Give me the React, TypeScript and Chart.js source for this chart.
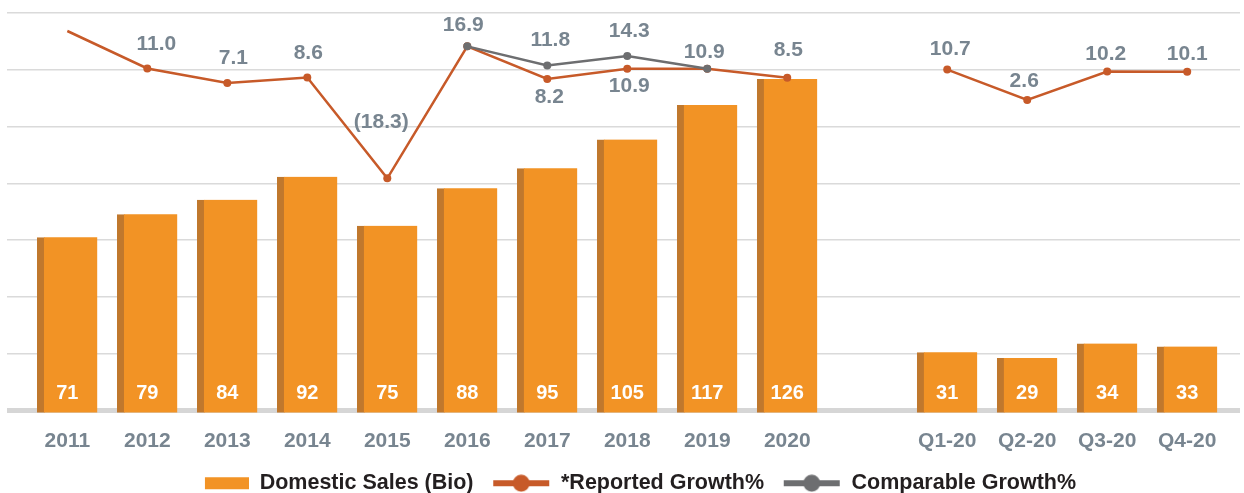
import React, { useEffect, useRef } from 'react';
import { Chart, registerables } from 'chart.js';

Chart.register(...registerables);

// ---------- data ----------
const categories = ['2011', '2012', '2013', '2014', '2015', '2016', '2017', '2018', '2019', '2020', '', 'Q1-20', 'Q2-20', 'Q3-20', 'Q4-20'];
const domesticSales = [71, 79, 84, 92, 75, 88, 95, 105, 117, 126, null, 31, 29, 34, 33];
const reportedGrowth = [21.0, 11.0, 7.1, 8.6, -18.3, 16.9, 8.2, 10.9, 10.9, 8.5, null, 10.7, 2.6, 10.2, 10.1];
const comparableGrowth = [null, null, null, null, null, 16.9, 11.8, 14.3, 10.9, null, null, null, null, null, null];

// ---------- label placement (px offsets from the point; null = no label) ----------
const reportedLabelDx = [null, 9, 6, 1, -6, -4, 2, 2, -3, 1, null, 3, -3, -1.5, 0];
const reportedLabelDy = [null, -24, -25, -24.5, -56, -21, 18.5, 17, -17, -28, null, -20, -18.5, -17, -17.5];
const comparableLabelDx = [null, null, null, null, null, null, 3, 2, null, null, null, null, null, null, null];
const comparableLabelDy = [null, null, null, null, null, null, -25, -25, null, null, null, null, null, null, null];
const reportedPointRadius = [0, 4, 4, 4, 4, 4, 4, 4, 4, 4, 4, 4, 4, 4, 4];

// ---------- styles ----------
const FONT = '"Liberation Sans", Arial, Helvetica, sans-serif';
const GRAY_TEXT = '#788590';
const BAR_COLOR = '#f29325';
const BAR_EDGE = '#c0782d';
const REPORTED_COLOR = '#c75a29';
const COMPARABLE_COLOR = '#6d6e70';
const GRID_COLOR = '#dadada';
const BASE_COLOR = '#d6d6d6';
const ICON_W = 74;

function makeLineIcon(color: string) {
  const c = document.createElement('canvas');
  c.width = ICON_W;
  c.height = 18;
  const g = c.getContext('2d')!;
  g.fillStyle = color;
  g.fillRect(ICON_W - 57, 6, 56, 6);
  g.beginPath();
  g.arc(ICON_W - 29, 9, 8.5, 0, Math.PI * 2);
  g.fill();
  return c;
}

function makeBoxIcon(color: string) {
  const c = document.createElement('canvas');
  c.width = ICON_W;
  c.height = 18;
  const g = c.getContext('2d')!;
  g.fillStyle = color;
  g.fillRect(ICON_W - 44, 3, 44, 12);
  return c;
}

function fmtGrowth(v: number) {
  return v < 0 ? `(${Math.abs(v).toFixed(1)})` : v.toFixed(1);
}

const valueLabels = {
  id: 'valueLabels',
  afterDatasetsDraw(chart: any) {
    const ctx = chart.ctx;
    const bottom = chart.chartArea.bottom;
    ctx.save();
    ctx.textAlign = 'center';
    ctx.textBaseline = 'middle';
    chart.data.datasets.forEach((ds: any, di: number) => {
      const meta = chart.getDatasetMeta(di);
      meta.data.forEach((el: any, i: number) => {
        const raw = ds.data[i];
        if (!raw || raw.y === null || raw.y === undefined) return;
        if (ds.type === 'bar') {
          ctx.font = `bold 20px ${FONT}`;
          ctx.fillStyle = '#ffffff';
          ctx.fillText(String(raw.y), el.x, bottom - 19);
        } else {
          const dxArr = ds.labelDx as (number | null)[];
          const dyArr = ds.labelDy as (number | null)[];
          const dy = dyArr[raw.x];
          if (dy === null || dy === undefined) return;
          const dx = dxArr[raw.x] ?? 0;
          ctx.font = `bold 21px ${FONT}`;
          ctx.fillStyle = GRAY_TEXT;
          ctx.fillText(fmtGrowth(raw.y), el.x + dx, el.y + dy);
        }
      });
    });
    ctx.restore();
  },
};

export default function App() {
  const canvasRef = useRef<HTMLCanvasElement | null>(null);

  useEffect(() => {
    if (!canvasRef.current) return;
    const icons = [makeBoxIcon(BAR_COLOR), makeLineIcon(REPORTED_COLOR), makeLineIcon(COMPARABLE_COLOR)];

    const barData = domesticSales
      .map((v, i) => ({ x: i, y: v }))
      .filter((p) => p.y !== null);
    const reportedData = reportedGrowth.map((v, i) => ({ x: i, y: v }));
    const comparableData = comparableGrowth.map((v, i) => ({ x: i, y: v }));

    const chart = new Chart(canvasRef.current, {
      type: 'bar',
      data: {
        datasets: [
          {
            type: 'bar',
            label: 'Domestic Sales (Bio)',
            data: barData as any,
            xAxisID: 'x',
            yAxisID: 'y',
            backgroundColor: BAR_COLOR,
            borderColor: BAR_EDGE,
            borderWidth: { left: 7, right: 0, top: 0, bottom: 0 } as any,
            borderSkipped: false as any,
            barThickness: 60,
            order: 3,
          } as any,
          {
            type: 'line',
            label: '*Reported Growth%',
            data: reportedData as any,
            xAxisID: 'x',
            yAxisID: 'y2',
            borderColor: REPORTED_COLOR,
            backgroundColor: REPORTED_COLOR,
            borderWidth: 2.5,
            pointRadius: reportedPointRadius,
            pointHoverRadius: reportedPointRadius,
            pointBorderWidth: 0,
            spanGaps: false,
            tension: 0,
            order: 2,
            labelDx: reportedLabelDx,
            labelDy: reportedLabelDy,
          } as any,
          {
            type: 'line',
            label: 'Comparable Growth%',
            data: comparableData as any,
            xAxisID: 'x',
            yAxisID: 'y2',
            borderColor: COMPARABLE_COLOR,
            backgroundColor: COMPARABLE_COLOR,
            borderWidth: 2.5,
            pointRadius: 4,
            pointHoverRadius: 4,
            pointBorderWidth: 0,
            spanGaps: false,
            tension: 0,
            order: 1,
            labelDx: comparableLabelDx,
            labelDy: comparableLabelDy,
          } as any,
        ],
      },
      options: {
        animation: false,
        responsive: true,
        maintainAspectRatio: false,
        layout: { padding: { left: 7, top: 13, right: 0, bottom: 0 } },
        font: { family: FONT } as any,
        scales: {
          x: {
            type: 'linear',
            min: -0.754,
            max: 14.66,
            offset: false,
            grid: { display: false, offset: false, drawTicks: false },
            border: { display: false },
            ticks: {
              stepSize: 1,
              includeBounds: false,
              autoSkip: false,
              maxRotation: 0,
              minRotation: 0,
              padding: 16,
              color: GRAY_TEXT,
              font: { family: FONT, size: 21, weight: 'bold' },
              callback: (v: any) => categories[Math.round(Number(v))] ?? '',
            },
          },
          y: { display: false, min: 10, max: 149 },
          y2: { display: false, min: -80.8, max: 25.8 },
          yg: {
            position: 'left',
            min: -0.04,
            max: 7,
            grid: {
              drawTicks: false,
              color: (c: any) => (c.tick && c.tick.value === 0 ? BASE_COLOR : GRID_COLOR),
              lineWidth: (c: any) => (c.tick && c.tick.value === 0 ? 5 : 1.5),
            },
            border: { display: false },
            ticks: { display: false, stepSize: 1, includeBounds: false },
          },
        } as any,
        plugins: {
          tooltip: { enabled: false },
          legend: {
            position: 'bottom',
            labels: {
              usePointStyle: true,
              pointStyleWidth: ICON_W,
              padding: 2.7,
              color: '#231f20',
              font: { family: FONT, size: 21.5, weight: 'bold' },
              generateLabels: (ch: any) =>
                ch.data.datasets.map((ds: any, i: number) => ({
                  text: ds.label,
                  pointStyle: icons[i],
                  fillStyle: 'transparent',
                  strokeStyle: 'transparent',
                  lineWidth: 0,
                  hidden: false,
                  datasetIndex: i,
                  fontColor: '#231f20',
                })),
            },
          } as any,
        },
      } as any,
      plugins: [valueLabels],
    });

    return () => chart.destroy();
  }, []);

  return (
    <div style={{ position: 'absolute', left: 0, top: 0, width: 1244, height: 493, overflow: 'hidden', background: '#ffffff' }}>
      <div style={{ position: 'relative', width: 1244, height: 504 }}>
        <canvas ref={canvasRef} />
      </div>
    </div>
  );
}
